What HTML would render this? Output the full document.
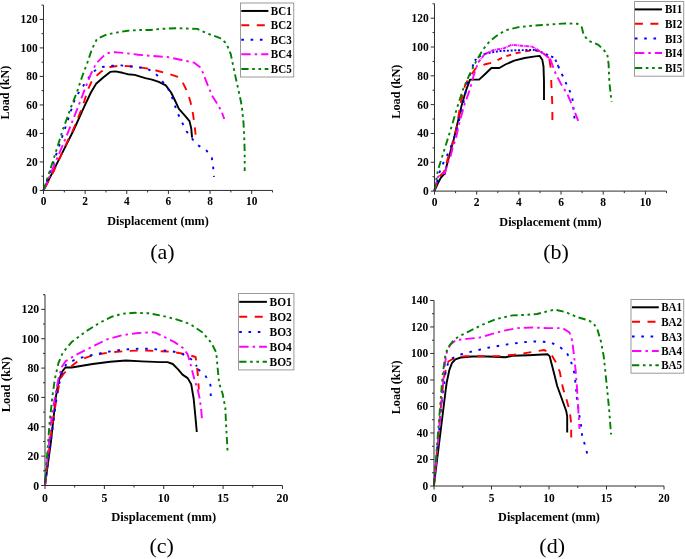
<!DOCTYPE html>
<html><head><meta charset="utf-8"><title>Load-displacement curves</title>
<style>html,body{margin:0;padding:0;background:#fff;}body{width:685px;height:559px;overflow:hidden;}svg{display:block;opacity:0.999;will-change:transform;font-family:"Liberation Serif",serif;}.t{font-weight:bold;fill:#000;}.c{fill:#000;}</style></head><body>
<svg width="685" height="559" viewBox="0 0 685 559">
<rect x="0" y="0" width="685" height="559" fill="#ffffff"/>
<g id="panel-a">
<path d="M43.5 190.4 L58.5 160.4 L73.7 130 L83.9 107.4 L90.9 92.5 L96.1 83.7 L103.2 77.5 L110.2 71.9 L115.4 71.4 L122.5 72.8 L127.7 74.2 L134.7 74.9 L145.3 78.1 L152 79.6 L158.8 81.9 L165.8 85.4 L171.1 92.5 L175 100.5 L178.9 108.8 L185.1 115.8 L189.5 121.1 L191.2 128.1 L192.1 137.7" fill="none" stroke="#000000" stroke-width="1.9" stroke-linejoin="round"/>
<path d="M43.5 190.4 L53.4 171.9 L59.8 157.9 L66.7 142.8 L73.1 130 L83 105.6 L87.4 90.7 L92.6 79.3 L101.4 71.4 L110.2 67 L118.9 65.8 L127.7 66.1 L138.2 67 L148.8 68.8 L156.1 70.5 L167.5 73.5 L177.2 76.7 L183.3 83.7 L187.7 92.5 L190.5 102 L193 114 L194.7 126.3 L195.6 134.6" fill="none" stroke="#FF0000" stroke-width="1.9" stroke-linejoin="round" stroke-dasharray="8 7.5" stroke-dashoffset="-3"/>
<path d="M43.5 190.4 L57.5 150.9 L74.2 101.2 L77.7 94.2 L83 86.3 L88.2 78.4 L93.5 71.4 L102.3 67 L111.9 65.8 L120.7 65.4 L131.2 66.5 L140 67.5 L148.8 69.6 L155.5 73.4 L161.4 80.2 L167.5 87.2 L171.9 96.8 L174.8 105.4 L178.1 114 L182.1 122.5 L186.5 131.2 L191.6 138.2 L197.7 145.1 L206.1 150 L211.8 157.9 L213.2 167.5 L214 176.8" fill="none" stroke="#0000FF" stroke-width="1.9" stroke-linejoin="round" stroke-dasharray="2.6 6.7"/>
<path d="M43.5 190.4 L66.3 136.8 L78.6 105.6 L85.6 87.2 L90.9 74 L96.1 63.5 L104 55.6 L108.4 53 L114.6 52.1 L124.2 53 L138.2 54.7 L152.6 56 L167.5 57 L181.6 60 L193.9 62.6 L199.8 67 L203.2 73.2 L207.3 84.2 L212.3 96 L218 105.1 L221.4 111 L224.3 119" fill="none" stroke="#FF00FF" stroke-width="1.9" stroke-linejoin="round" stroke-dasharray="9.4 4 2.5 4"/>
<path d="M43.5 190.4 L52.3 163.2 L62.8 129.8 L71.6 105.6 L76.8 92.5 L82.1 76.7 L87.4 62.6 L91.8 49.5 L97 38.9 L106.7 34.6 L115.4 32.8 L127.7 30.7 L140 30 L150 30 L160.5 28.9 L176.3 28.2 L197.4 28.9 L207.9 33.7 L220.2 38.1 L226.3 43.3 L230.7 53.9 L235.1 74.9 L238.6 90.7 L241 102 L242.1 108.8 L243.5 122.8 L244.2 135.1 L244.7 152.6 L244.7 171.1" fill="none" stroke="#008000" stroke-width="1.9" stroke-linejoin="round" stroke-dasharray="7.3 3.6 2.6 3.7 2.6 3.6"/>
<path d="M43.5 5.15 L43.5 190.45 L272.52 190.45" fill="none" stroke="#2e2e2e" stroke-width="1"/>
<path d="M43.5 190.45 v3.5 M85.14 190.45 v3.5 M126.78 190.45 v3.5 M168.42 190.45 v3.5 M210.06 190.45 v3.5 M251.7 190.45 v3.5 M64.32 190.45 v2 M105.96 190.45 v2 M147.6 190.45 v2 M189.24 190.45 v2 M230.88 190.45 v2 M272.52 190.45 v2 M43.5 190.45 h-3.8 M43.5 161.94 h-3.8 M43.5 133.43 h-3.8 M43.5 104.93 h-3.8 M43.5 76.42 h-3.8 M43.5 47.91 h-3.8 M43.5 19.4 h-3.8 M43.5 176.2 h-2 M43.5 147.69 h-2 M43.5 119.18 h-2 M43.5 90.67 h-2 M43.5 62.16 h-2 M43.5 33.66 h-2 M43.5 5.15 h-2" fill="none" stroke="#2e2e2e" stroke-width="1"/>
<text class="t" transform="translate(43.5 205.2) scale(1 1.05)" font-size="11.4" text-anchor="middle">0</text>
<text class="t" transform="translate(85.14 205.2) scale(1 1.05)" font-size="11.4" text-anchor="middle">2</text>
<text class="t" transform="translate(126.78 205.2) scale(1 1.05)" font-size="11.4" text-anchor="middle">4</text>
<text class="t" transform="translate(168.42 205.2) scale(1 1.05)" font-size="11.4" text-anchor="middle">6</text>
<text class="t" transform="translate(210.06 205.2) scale(1 1.05)" font-size="11.4" text-anchor="middle">8</text>
<text class="t" transform="translate(251.7 205.2) scale(1 1.05)" font-size="11.4" text-anchor="middle">10</text>
<text class="t" transform="translate(37.7 194.4) scale(1 1.05)" font-size="11.4" text-anchor="end">0</text>
<text class="t" transform="translate(37.7 165.89) scale(1 1.05)" font-size="11.4" text-anchor="end">20</text>
<text class="t" transform="translate(37.7 137.38) scale(1 1.05)" font-size="11.4" text-anchor="end">40</text>
<text class="t" transform="translate(37.7 108.88) scale(1 1.05)" font-size="11.4" text-anchor="end">60</text>
<text class="t" transform="translate(37.7 80.37) scale(1 1.05)" font-size="11.4" text-anchor="end">80</text>
<text class="t" transform="translate(37.7 51.86) scale(1 1.05)" font-size="11.4" text-anchor="end">100</text>
<text class="t" transform="translate(37.7 23.35) scale(1 1.05)" font-size="11.4" text-anchor="end">120</text>
<text class="t" transform="translate(158.01 224.9) scale(1 1.04)" font-size="12.15" text-anchor="middle">Displacement (mm)</text>
<text class="t" transform="translate(9.4 92.6) rotate(-90) scale(1 1.04)" font-size="12.15" text-anchor="middle">Load (kN)</text>
<text class="c" transform="translate(162.4 258.9)" font-size="22" text-anchor="middle">(a)</text>
<rect x="240.5" y="3" width="53.2" height="74" fill="#ffffff" stroke="#9a9a9a" stroke-width="1"/>
<path d="M241.3 10.95 H268.4" fill="none" stroke="#000000" stroke-width="2"/>
<text class="t" transform="translate(270.8 14.95) scale(1 1.09)" font-size="11.05">BC1</text>
<path d="M241.3 25.3 H268.4" fill="none" stroke="#FF0000" stroke-width="2" stroke-dasharray="8 7.5"/>
<text class="t" transform="translate(270.8 29.3) scale(1 1.09)" font-size="11.05">BC2</text>
<path d="M241.3 39.8 H268.4" fill="none" stroke="#0000FF" stroke-width="2" stroke-dasharray="2.6 6.7"/>
<text class="t" transform="translate(270.8 43.8) scale(1 1.09)" font-size="11.05">BC3</text>
<path d="M241.3 54.2 H268.4" fill="none" stroke="#FF00FF" stroke-width="2" stroke-dasharray="9.4 4 2.5 4"/>
<text class="t" transform="translate(270.8 58.2) scale(1 1.09)" font-size="11.05">BC4</text>
<path d="M241.3 68.9 H268.4" fill="none" stroke="#008000" stroke-width="2" stroke-dasharray="7.3 3.6 2.6 3.7 2.6 3.6"/>
<text class="t" transform="translate(270.8 72.9) scale(1 1.09)" font-size="11.05">BC5</text>
</g>
<g id="panel-b">
<path d="M434.4 191.2 L437.9 183.3 L440.8 177.9 L443.3 174.9 L444.8 174 L445.7 169.5 L448.2 159.7 L451.2 148.9 L453.6 140 L461.6 105.4 L466 90.5 L470 79.6 L479.1 79.6 L484.4 74.7 L491.4 68 L499.3 68 L505.4 64.5 L514.2 60.6 L524.7 58 L533.5 56.6 L539.6 55.9 L542.3 59.8 L543.5 66.5 L544 81.7 L544 100.1" fill="none" stroke="#000000" stroke-width="1.9" stroke-linejoin="round"/>
<path d="M434.4 190.9 L438.8 177.2 L444 171.9 L447.5 159.6 L456.3 129.8 L460.7 102.7 L465.1 85.2 L469.5 77.3 L475.6 68.5 L484.4 64.5 L493.2 62.4" fill="none" stroke="#FF0000" stroke-width="1.9" stroke-linejoin="round" stroke-dasharray="8 7.5"/>
<path d="M497.5 60.2 L503.7 57.1 L514.2 53.6 L524.7 51.5 L533.5 50.1 L538.8 51 L544 53.6 L549.3 58.9" fill="none" stroke="#FF0000" stroke-width="1.9" stroke-linejoin="round" stroke-dasharray="5.04 4.72"/>
<path d="M549.3 58.9 L550.7 67.6" fill="none" stroke="#FF0000" stroke-width="1.9" stroke-linejoin="round" stroke-dasharray="20 1"/>
<path d="M551.2 80 L551.4 85.2 L552.3 104.5 L552.4 120.2" fill="none" stroke="#FF0000" stroke-width="1.9" stroke-linejoin="round" stroke-dasharray="8 8.05"/>
<path d="M434.4 190.9 L436.9 182.3 L438.9 174 L441.8 166.1 L445.3 159.2 L448.7 151.8 L451.7 144.9 L456.3 131.6 L463.3 103.6 L467.7 81.7 L471.6 69.4 L474.7 60.6" fill="none" stroke="#0000FF" stroke-width="1.9" stroke-linejoin="round" stroke-dasharray="2.6 6.7"/>
<path d="M474.7 60.6 L480.9 55.4 L485 53.8" fill="none" stroke="#0000FF" stroke-width="1.9" stroke-linejoin="round" stroke-dasharray="2.3 3.2"/>
<path d="M485 53.8 L489.6 52.7 L500.2 51 L510.7 50.5 L523 50.1 L535.3 49.9" fill="none" stroke="#0000FF" stroke-width="1.9" stroke-linejoin="round" stroke-dasharray="2 1.7"/>
<path d="M535.3 49.9 L545.8 54 L554.6 58 L558.1 65.9" fill="none" stroke="#0000FF" stroke-width="1.9" stroke-linejoin="round" stroke-dasharray="2.4 3.3"/>
<path d="M558.1 65.9 L562.5 75.5 L567.7 86.9 L572.1 95.7 L573 103.6 L574.5 118.6" fill="none" stroke="#0000FF" stroke-width="1.9" stroke-linejoin="round" stroke-dasharray="2.6 6.28"/>
<path d="M434.4 190.9 L437.4 177.9 L439.4 174.9 L444.8 173 L446.2 168.5 L447.7 163.6 L450.7 155.7 L453.1 145.9 L455.6 140 L458.9 124.6 L464.2 105.4 L469.5 90.5 L473.9 74.7 L478.2 62.4" fill="none" stroke="#FF00FF" stroke-width="1.9" stroke-linejoin="round" stroke-dasharray="9.4 4 2.5 4"/>
<path d="M478.2 62.4 L484.4 54.5 L493.2 50.1 L503.7 48.4 L511.6 44.8 L521.2 45.7 L531.8 46.6 L537 49.2 L544 54 L550.2 58.9" fill="none" stroke="#FF00FF" stroke-width="1.9" stroke-linejoin="round" stroke-dasharray="3.6 0.7 0.9 0.7"/>
<path d="M550.2 58.9 L554.6 71.2 L560.7 83.4 L567.5 94.4 L572 105 L578.2 120.9" fill="none" stroke="#FF00FF" stroke-width="1.9" stroke-linejoin="round" stroke-dasharray="9.4 4 2.5 4"/>
<path d="M434.4 190.9 L437.9 170.2 L444 150.9 L451.1 128.1 L458.1 104.5 L463.3 88.7 L469.5 74.7 L475.6 62.4 L482.6 50.1 L489.6 41.3 L498.4 34.3 L507.2 29.9 L517.7 27.3 L528.2 26.1 L538.8 25.2 L547.5 24.7 L565.1 23.4 L577.4 23.8 L581.8 27.3 L583.5 34.3 L587.9 40.5 L598.4 44.8 L607.2 53.6 L608.6 64.1 L609.3 81.7 L611.6 102" fill="none" stroke="#008000" stroke-width="1.9" stroke-linejoin="round" stroke-dasharray="7.3 3.6 2.6 3.7 2.6 3.6"/>
<path d="M434.5 3.77 L434.5 191.1 L666.49 191.1" fill="none" stroke="#2e2e2e" stroke-width="1"/>
<path d="M434.5 191.1 v3.5 M476.68 191.1 v3.5 M518.86 191.1 v3.5 M561.04 191.1 v3.5 M603.22 191.1 v3.5 M645.4 191.1 v3.5 M455.59 191.1 v2 M497.77 191.1 v2 M539.95 191.1 v2 M582.13 191.1 v2 M624.31 191.1 v2 M666.49 191.1 v2 M434.5 191.1 h-3.8 M434.5 162.28 h-3.8 M434.5 133.46 h-3.8 M434.5 104.64 h-3.8 M434.5 75.82 h-3.8 M434.5 47 h-3.8 M434.5 18.18 h-3.8 M434.5 176.69 h-2 M434.5 147.87 h-2 M434.5 119.05 h-2 M434.5 90.23 h-2 M434.5 61.41 h-2 M434.5 32.59 h-2 M434.5 3.77 h-2" fill="none" stroke="#2e2e2e" stroke-width="1"/>
<text class="t" transform="translate(434.5 205.8) scale(1 1.05)" font-size="11.49" text-anchor="middle">0</text>
<text class="t" transform="translate(476.68 205.8) scale(1 1.05)" font-size="11.49" text-anchor="middle">2</text>
<text class="t" transform="translate(518.86 205.8) scale(1 1.05)" font-size="11.49" text-anchor="middle">4</text>
<text class="t" transform="translate(561.04 205.8) scale(1 1.05)" font-size="11.49" text-anchor="middle">6</text>
<text class="t" transform="translate(603.22 205.8) scale(1 1.05)" font-size="11.49" text-anchor="middle">8</text>
<text class="t" transform="translate(645.4 205.8) scale(1 1.05)" font-size="11.49" text-anchor="middle">10</text>
<text class="t" transform="translate(428.7 195.08) scale(1 1.05)" font-size="11.49" text-anchor="end">0</text>
<text class="t" transform="translate(428.7 166.26) scale(1 1.05)" font-size="11.49" text-anchor="end">20</text>
<text class="t" transform="translate(428.7 137.44) scale(1 1.05)" font-size="11.49" text-anchor="end">40</text>
<text class="t" transform="translate(428.7 108.62) scale(1 1.05)" font-size="11.49" text-anchor="end">60</text>
<text class="t" transform="translate(428.7 79.8) scale(1 1.05)" font-size="11.49" text-anchor="end">80</text>
<text class="t" transform="translate(428.7 50.98) scale(1 1.05)" font-size="11.49" text-anchor="end">100</text>
<text class="t" transform="translate(428.7 22.16) scale(1 1.05)" font-size="11.49" text-anchor="end">120</text>
<text class="t" transform="translate(550.5 225.7) scale(1 1.04)" font-size="12.25" text-anchor="middle">Displacement (mm)</text>
<text class="t" transform="translate(400.1 91.7) rotate(-90) scale(1 1.04)" font-size="12.25" text-anchor="middle">Load (kN)</text>
<text class="c" transform="translate(556.1 258.5)" font-size="22" text-anchor="middle">(b)</text>
<rect x="634.5" y="1.5" width="49.2" height="74.7" fill="#ffffff" stroke="#9a9a9a" stroke-width="1"/>
<path d="M634.9 9.4 H662" fill="none" stroke="#000000" stroke-width="2"/>
<text class="t" transform="translate(664.9 13.43) scale(1 1.09)" font-size="11.14">BI1</text>
<path d="M634.9 23.8 H662" fill="none" stroke="#FF0000" stroke-width="2" stroke-dasharray="8 7.5"/>
<text class="t" transform="translate(664.9 27.83) scale(1 1.09)" font-size="11.14">BI2</text>
<path d="M634.9 38.6 H662" fill="none" stroke="#0000FF" stroke-width="2" stroke-dasharray="2.6 6.7"/>
<text class="t" transform="translate(664.9 42.63) scale(1 1.09)" font-size="11.14">BI3</text>
<path d="M634.9 53.1 H662" fill="none" stroke="#FF00FF" stroke-width="2" stroke-dasharray="9.4 4 2.5 4"/>
<text class="t" transform="translate(664.9 57.13) scale(1 1.09)" font-size="11.14">BI4</text>
<path d="M634.9 67.9 H662" fill="none" stroke="#008000" stroke-width="2" stroke-dasharray="7.3 3.6 2.6 3.7 2.6 3.6"/>
<text class="t" transform="translate(664.9 71.93) scale(1 1.09)" font-size="11.14">BI5</text>
</g>
<g id="panel-c">
<path d="M45 485.2 L50.7 443.7 L55.8 397.4 L58.4 382.5 L61.9 371.9 L65.4 367.5 L71.6 367.5 L92.6 364 L110.2 361.8 L126 360.5 L141.8 361.4 L160.5 362.1 L167.5 362.1 L172.8 364 L178.1 369.3 L182.5 374.6 L187.7 378.1 L191.2 384.2 L193.7 399 L195.4 416.6 L196.8 432" fill="none" stroke="#000000" stroke-width="1.9" stroke-linejoin="round"/>
<path d="M45 485.2 L47.2 465.1 L51.6 429.4 L56.7 397.4 L60.2 378.9 L63.7 373.7 L68.9 368.4 L78.6 360.5 L92.6 355.3 L110.2 352.3 L127.7 350.9 L145.3 350.5 L160.5 351.2 L172.8 351.9 L185.1 354 L195.6 357 L197 366.7 L198.2 378.9 L198.8 389.5" fill="none" stroke="#FF0000" stroke-width="1.9" stroke-linejoin="round" stroke-dasharray="8 7.5"/>
<path d="M45 485.2 L51 440 L57.5 391.2 L61.1 375.4 L66.3 364 L76.8 358.8 L90.9 355.3 L104.9 352.3 L122.5 349.6 L138.2 348.8 L152.3 348.8 L160.5 350 L171.1 351.2 L178.9 352.6 L187.7 356.5 L193.9 361.4 L196.8 366.5" fill="none" stroke="#0000FF" stroke-width="1.9" stroke-linejoin="round" stroke-dasharray="2.6 6.7"/>
<path d="M198.2 369.3 L205.3 375.4 L210.5 385.1 L210.8 396" fill="none" stroke="#0000FF" stroke-width="1.9" stroke-linejoin="round" stroke-dasharray="2.6 7.0"/>
<path d="M45 485.2 L48 452.6 L51.6 416.8 L54.9 397.4 L58.4 378.9 L61.9 366.7 L65.4 361.4 L75.1 355.3 L90.9 347.4 L106.7 339.5 L122.5 335.1 L138.2 333 L152.3 332.3 L155.3 332.6 L164 336.8 L174.6 342.1 L183.3 348.2 L187.7 354.4 L191.2 366.7 L194.7 380.7 L197.4 388 L199.8 399 L201.2 409.6 L201.9 418.3" fill="none" stroke="#FF00FF" stroke-width="1.9" stroke-linejoin="round" stroke-dasharray="9.4 4 2.5 4"/>
<path d="M45 485.2 L47.2 454.4 L49.8 420.4 L52.6 394.7 L54.9 378.9 L58.4 363.2 L62.8 352.6 L71.6 342.1 L85.6 331.6 L99.6 322.8 L111.9 316.7 L122.5 313.7 L134.7 312.8 L148.8 313.3 L162.3 315.8 L176.3 319.3 L190.4 324.2 L202.6 332.5 L211.4 343 L216.3 352.6 L217.5 366.7 L219.1 383 L222.6 393.8 L225.3 407.8 L226.1 425.4 L227 441.1 L227.5 450.6" fill="none" stroke="#008000" stroke-width="1.9" stroke-linejoin="round" stroke-dasharray="7.3 3.6 2.6 3.7 2.6 3.6" stroke-dashoffset="-3.1"/>
<path d="M45 294.69 L45 485.5 L282.44 485.5" fill="none" stroke="#2e2e2e" stroke-width="1"/>
<path d="M45 485.5 v3.5 M104.36 485.5 v3.5 M163.72 485.5 v3.5 M223.08 485.5 v3.5 M282.44 485.5 v3.5 M74.68 485.5 v2 M134.04 485.5 v2 M193.4 485.5 v2 M252.76 485.5 v2 M45 485.5 h-3.8 M45 456.14 h-3.8 M45 426.79 h-3.8 M45 397.43 h-3.8 M45 368.08 h-3.8 M45 338.72 h-3.8 M45 309.36 h-3.8 M45 470.82 h-2 M45 441.47 h-2 M45 412.11 h-2 M45 382.75 h-2 M45 353.4 h-2 M45 324.04 h-2 M45 294.69 h-2" fill="none" stroke="#2e2e2e" stroke-width="1"/>
<text class="t" transform="translate(45 501.6) scale(1 1.05)" font-size="11.8" text-anchor="middle">0</text>
<text class="t" transform="translate(104.36 501.6) scale(1 1.05)" font-size="11.8" text-anchor="middle">5</text>
<text class="t" transform="translate(163.72 501.6) scale(1 1.05)" font-size="11.8" text-anchor="middle">10</text>
<text class="t" transform="translate(223.08 501.6) scale(1 1.05)" font-size="11.8" text-anchor="middle">15</text>
<text class="t" transform="translate(282.44 501.6) scale(1 1.05)" font-size="11.8" text-anchor="middle">20</text>
<text class="t" transform="translate(39.2 489.59) scale(1 1.05)" font-size="11.8" text-anchor="end">0</text>
<text class="t" transform="translate(39.2 460.23) scale(1 1.05)" font-size="11.8" text-anchor="end">20</text>
<text class="t" transform="translate(39.2 430.88) scale(1 1.05)" font-size="11.8" text-anchor="end">40</text>
<text class="t" transform="translate(39.2 401.52) scale(1 1.05)" font-size="11.8" text-anchor="end">60</text>
<text class="t" transform="translate(39.2 372.16) scale(1 1.05)" font-size="11.8" text-anchor="end">80</text>
<text class="t" transform="translate(39.2 342.81) scale(1 1.05)" font-size="11.8" text-anchor="end">100</text>
<text class="t" transform="translate(39.2 313.45) scale(1 1.05)" font-size="11.8" text-anchor="end">120</text>
<text class="t" transform="translate(163.72 521.2) scale(1 1.04)" font-size="12.58" text-anchor="middle">Displacement (mm)</text>
<text class="t" transform="translate(9.5 384.6) rotate(-90) scale(1 1.04)" font-size="12.58" text-anchor="middle">Load (kN)</text>
<text class="c" transform="translate(161.7 552.5)" font-size="22" text-anchor="middle">(c)</text>
<rect x="238.5" y="293.5" width="55.4" height="76.4" fill="#ffffff" stroke="#9a9a9a" stroke-width="1"/>
<path d="M239.2 301.85 H266.9" fill="none" stroke="#000000" stroke-width="2"/>
<text class="t" transform="translate(269.6 305.99) scale(1 1.09)" font-size="11.44">BO1</text>
<path d="M239.2 316.8 H266.9" fill="none" stroke="#FF0000" stroke-width="2" stroke-dasharray="8 7.5"/>
<text class="t" transform="translate(269.6 320.94) scale(1 1.09)" font-size="11.44">BO2</text>
<path d="M239.2 331.9 H266.9" fill="none" stroke="#0000FF" stroke-width="2" stroke-dasharray="2.6 6.7"/>
<text class="t" transform="translate(269.6 336.04) scale(1 1.09)" font-size="11.44">BO3</text>
<path d="M239.2 346.8 H266.9" fill="none" stroke="#FF00FF" stroke-width="2" stroke-dasharray="9.4 4 2.5 4"/>
<text class="t" transform="translate(269.6 350.94) scale(1 1.09)" font-size="11.44">BO4</text>
<path d="M239.2 361.8 H266.9" fill="none" stroke="#008000" stroke-width="2" stroke-dasharray="7.3 3.6 2.6 3.7 2.6 3.6"/>
<text class="t" transform="translate(269.6 365.94) scale(1 1.09)" font-size="11.44">BO5</text>
</g>
<g id="panel-d">
<path d="M433.9 485.7 L445.7 390 L446.7 382.5 L449.3 370.2 L451.9 363.2 L455.4 359.3 L460.7 357.5 L472.1 356.5 L487.9 356.5 L505.4 357.2 L512.5 355.8 L528.2 355.3 L547.5 354.3 L549.6 356.1 L551.9 364.9 L554.6 375.4 L557.2 386 L561.9 399 L566.3 411.3 L567.2 416.6 L567.2 432.4" fill="none" stroke="#000000" stroke-width="1.9" stroke-linejoin="round"/>
<path d="M433.9 485.7 L441.9 394.7 L444 377.2 L446.1 368.9 L448.3 361.5 L451.4 359.7 L455.8 358 L460.1 356.8 L465.1 356.2 L482.6 356.1 L500.2 356.1 L514.2 354.7 L528.2 352.6 L538.8 350.9 L544 350 L550.2 352.6 L555.4 361.4 L559.8 371.9 L562.8 387.6 L566.3 399 L569.8 411.3 L571.2 423.6 L571.2 437.6" fill="none" stroke="#FF0000" stroke-width="1.9" stroke-linejoin="round" stroke-dasharray="8 7.5"/>
<path d="M433.9 485.7 L442.5 395 L443.2 391.2 L445.8 370.2 L449.3 359.6 L459.8 354.7 L470.4 351.9 L487.9 347.7 L505.4 344.7 L524.7 342.1 L535.3 341.4 L544 341.8 L551.9 343 L559.8 347 L566.8 352.6 L571.2 362.3 L573.9 371.1 L575.8 385 L576.7 397" fill="none" stroke="#0000FF" stroke-width="1.9" stroke-linejoin="round" stroke-dasharray="2.6 6.7"/>
<path d="M576.7 397 L579.5 416.6 L581.2 426.2 L582.1 435.5 L584.7 444.3 L587.3 453.8" fill="none" stroke="#0000FF" stroke-width="1.9" stroke-linejoin="round" stroke-dasharray="2.6 6.55"/>
<path d="M433.9 485.7 L442.3 394.7 L444 370.2 L446.7 352.6 L450.2 344.7 L456.3 340 L466.8 338.9 L479.1 337.7 L491.4 334.2 L503.7 330.7 L517.7 328.1 L531.8 327.5 L547.5 328.1 L562.5 328.1 L569.5 332.5 L572.1 340.4 L573.9 354.4 L575.6 370.2 L576.8 385 L577.7 399 L578.6 414.8 L579.5 428.9" fill="none" stroke="#FF00FF" stroke-width="1.9" stroke-linejoin="round" stroke-dasharray="9.4 4 2.5 4"/>
<path d="M433.9 485.7 L440.9 396.5 L442.6 375.4 L444.9 357.9 L447.5 348.2 L452.8 341.2 L458.1 336.8 L468.6 331.6 L482.6 324.6 L496.7 318.9 L512.5 315.4 L524.7 314.9 L537 314 L542.3 312.6 L554.6 309.6 L565.1 311.9 L577.4 317.2 L587.9 320.2 L593.2 322.8 L597.5 329.8 L601.1 342.1 L603.7 356.1 L605.4 371.9 L606.9 387 L608.1 399 L609.3 411.3 L610.2 423.6 L611.1 434.5" fill="none" stroke="#008000" stroke-width="1.9" stroke-linejoin="round" stroke-dasharray="7.3 3.6 2.6 3.7 2.6 3.6"/>
<path d="M434 300.44 L434 486 L664 486" fill="none" stroke="#2e2e2e" stroke-width="1"/>
<path d="M434 486 v3.5 M491.5 486 v3.5 M549 486 v3.5 M606.5 486 v3.5 M664 486 v3.5 M462.75 486 v2 M520.25 486 v2 M577.75 486 v2 M635.25 486 v2 M434 486 h-3.8 M434 459.49 h-3.8 M434 432.98 h-3.8 M434 406.48 h-3.8 M434 379.97 h-3.8 M434 353.46 h-3.8 M434 326.95 h-3.8 M434 300.44 h-3.8 M434 472.75 h-2 M434 446.24 h-2 M434 419.73 h-2 M434 393.22 h-2 M434 366.71 h-2 M434 340.21 h-2 M434 313.7 h-2" fill="none" stroke="#2e2e2e" stroke-width="1"/>
<text class="t" transform="translate(434 502) scale(1 1.05)" font-size="11.43" text-anchor="middle">0</text>
<text class="t" transform="translate(491.5 502) scale(1 1.05)" font-size="11.43" text-anchor="middle">5</text>
<text class="t" transform="translate(549 502) scale(1 1.05)" font-size="11.43" text-anchor="middle">10</text>
<text class="t" transform="translate(606.5 502) scale(1 1.05)" font-size="11.43" text-anchor="middle">15</text>
<text class="t" transform="translate(664 502) scale(1 1.05)" font-size="11.43" text-anchor="middle">20</text>
<text class="t" transform="translate(428.2 489.96) scale(1 1.05)" font-size="11.43" text-anchor="end">0</text>
<text class="t" transform="translate(428.2 463.45) scale(1 1.05)" font-size="11.43" text-anchor="end">20</text>
<text class="t" transform="translate(428.2 436.95) scale(1 1.05)" font-size="11.43" text-anchor="end">40</text>
<text class="t" transform="translate(428.2 410.44) scale(1 1.05)" font-size="11.43" text-anchor="end">60</text>
<text class="t" transform="translate(428.2 383.93) scale(1 1.05)" font-size="11.43" text-anchor="end">80</text>
<text class="t" transform="translate(428.2 357.42) scale(1 1.05)" font-size="11.43" text-anchor="end">100</text>
<text class="t" transform="translate(428.2 330.91) scale(1 1.05)" font-size="11.43" text-anchor="end">120</text>
<text class="t" transform="translate(428.2 304.41) scale(1 1.05)" font-size="11.43" text-anchor="end">140</text>
<text class="t" transform="translate(549 520.6) scale(1 1.04)" font-size="12.19" text-anchor="middle">Displacement (mm)</text>
<text class="t" transform="translate(400.1 387.4) rotate(-90) scale(1 1.04)" font-size="12.19" text-anchor="middle">Load (kN)</text>
<text class="c" transform="translate(552.2 552.5)" font-size="22" text-anchor="middle">(d)</text>
<rect x="631" y="299.5" width="52.7" height="73.7" fill="#ffffff" stroke="#9a9a9a" stroke-width="1"/>
<path d="M632 307.3 H658.8" fill="none" stroke="#000000" stroke-width="2"/>
<text class="t" transform="translate(661.2 311.31) scale(1 1.09)" font-size="11.08">BA1</text>
<path d="M632 321.8 H658.8" fill="none" stroke="#FF0000" stroke-width="2" stroke-dasharray="8 7.5"/>
<text class="t" transform="translate(661.2 325.81) scale(1 1.09)" font-size="11.08">BA2</text>
<path d="M632 336.5 H658.8" fill="none" stroke="#0000FF" stroke-width="2" stroke-dasharray="2.6 6.7"/>
<text class="t" transform="translate(661.2 340.51) scale(1 1.09)" font-size="11.08">BA3</text>
<path d="M632 350.9 H658.8" fill="none" stroke="#FF00FF" stroke-width="2" stroke-dasharray="9.4 4 2.5 4"/>
<text class="t" transform="translate(661.2 354.91) scale(1 1.09)" font-size="11.08">BA4</text>
<path d="M632 365.2 H658.8" fill="none" stroke="#008000" stroke-width="2" stroke-dasharray="7.3 3.6 2.6 3.7 2.6 3.6"/>
<text class="t" transform="translate(661.2 369.21) scale(1 1.09)" font-size="11.08">BA5</text>
</g>
</svg></body></html>
